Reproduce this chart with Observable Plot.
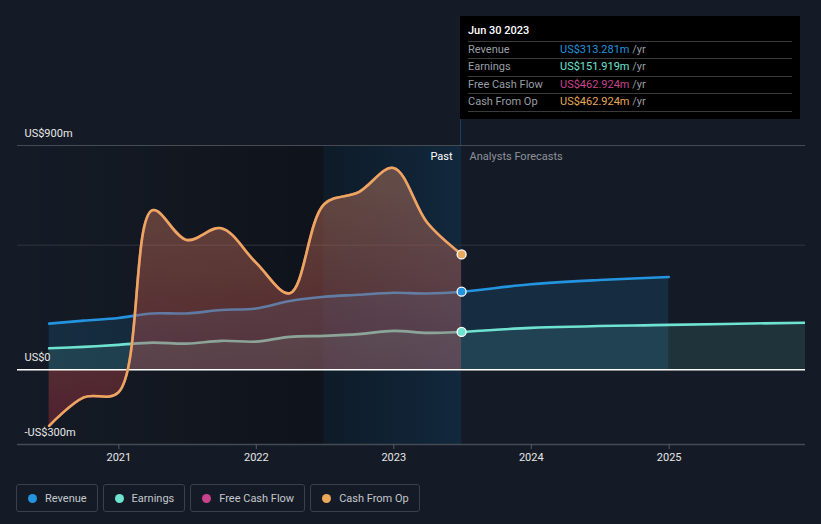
<!DOCTYPE html>
<html>
<head>
<meta charset="utf-8">
<script src="https://cdn.jsdelivr.net/npm/d3@7"></script>
<script src="https://cdn.jsdelivr.net/npm/@observablehq/plot@0.6"></script>
<style>
  html, body { margin: 0; padding: 0; background: #151b26; }
  body { font-family: Roboto, "Noto Sans", sans-serif; }
  #wrap { position: relative; width: 821px; height: 524px; overflow: hidden; background: #151b26; }
  #chart { position: absolute; left: 0; top: 0; }
  #vline { position: absolute; left: 460px; top: 16px; width: 1px; height: 129px; background: #1f3f5e; }
  #tip { position: absolute; left: 460px; top: 16px; width: 340px; height: 103px; background: #000; font-size: 11px; }
  #tip .hd { position: absolute; left: 8px; color: #fff; font-weight: 500; line-height: 14px; top: 8px; }
  #tip .sep { position: absolute; left: 8px; width: 324px; height: 1px; background: #3a3a3a; }
  #tip .row { position: absolute; left: 8px; width: 324px; height: 14px; line-height: 14px; }
  #tip .lab { position: absolute; left: 0; color: #9a9ea5; }
  #tip .val { position: absolute; left: 92px; color: #9a9ea5; }
  #legend { position: absolute; left: 16px; top: 484px; display: flex; gap: 5px; }
  .lg { height: 26px; border: 1px solid #3b404a; border-radius: 3px; display: flex; align-items: center; padding: 0 10px 0 11px; color: #c3c7cd; font-size: 11px; box-sizing: content-box; }
  .lg .dot { width: 9px; height: 9px; border-radius: 50%; margin-right: 8px; }
</style>
</head>
<body>
<div id="wrap">
  <div id="chart"></div>
  <div id="vline"></div>
  <div id="tip"></div>
  <div id="legend"></div>
</div>
<script>
// ---- data (US$ millions, trailing twelve months) ----
const pastDates = ["2020-06-30","2020-09-30","2020-12-31","2021-03-31","2021-06-30","2021-09-30","2021-12-31","2022-03-31","2022-06-30","2022-09-30","2022-12-31","2023-03-31","2023-06-30"];
const revenuePast   = [185, 197, 208, 226, 226, 240, 246, 276, 293, 301, 309, 306, 313.281];
const earningsPast  = [86, 92, 100, 109, 105, 116, 113, 132, 136, 143, 156, 148, 151.919];
const freeCashFlow  = [-225, -111, -91, 640, 521, 568, 430, 307, 664, 713, 810, 590, 462.924];
const cashFromOp    = [-225, -111, -91, 640, 521, 568, 430, 307, 664, 713, 810, 590, 462.924];

const revenueForecastDates  = ["2023-06-30","2023-12-31","2024-06-30","2024-12-31"];
const revenueForecast       = [313.281, 343, 360, 372];
const earningsForecastDates = ["2023-06-30","2023-12-31","2024-12-31","2025-12-31"];
const earningsForecast      = [151.919, 168, 180, 189];

const yTicks = [-300, 0, 900];
const yTickLabels = ["-US$300m", "US$0", "US$900m"];
const gridValues = [500, 900];
const xDomain = ["2020-04-07", "2025-12-29"];
const pastStart = "2022-06-30";
const lastDate = "2023-06-30";

const tooltipDate = "Jun 30 2023";
const seriesNames  = ["Revenue", "Earnings", "Free Cash Flow", "Cash From Op"];
const seriesColors = ["#2394df", "#6fe3d1", "#c8438a", "#e9a85c"];
const tooltipValues = ["US$313.281m", "US$151.919m", "US$462.924m", "US$462.924m"];

// ---- build tables ----
const parse = d3.utcParse("%Y-%m-%d");
const rows = (dates, vals) => dates.map((d, i) => ({date: parse(d), value: vals[i]}));
const revenue  = rows(pastDates, revenuePast).concat(rows(revenueForecastDates.slice(1), revenueForecast.slice(1)));
const earnings = rows(pastDates, earningsPast).concat(rows(earningsForecastDates.slice(1), earningsForecast.slice(1)));
const fcf = rows(pastDates, freeCashFlow);
const cfo = rows(pastDates, cashFromOp);
const yMin = yTicks[0], yMax = yTicks[yTicks.length - 1];
const shades = [
  {x1: parse(xDomain[0]), x2: parse(pastStart), y1: yMin, y2: yMax, fill: "url(#leftGrad)"},
  {x1: parse(pastStart), x2: parse(lastDate), y1: yMin, y2: yMax, fill: "url(#pastGrad)"}
];
const endPoints = [
  {date: parse(lastDate), value: revenuePast[revenuePast.length - 1], c: seriesColors[0]},
  {date: parse(lastDate), value: earningsPast[earningsPast.length - 1], c: seriesColors[1]},
  {date: parse(lastDate), value: cashFromOp[cashFromOp.length - 1], c: seriesColors[3]}
];
const yLabelRows = yTicks.map((v, i) => ({date: parse(xDomain[0]), value: v, label: yTickLabels[i]}));
const phase = [{date: parse(lastDate), value: yMax}];

const plot = Plot.plot({
  width: 821,
  height: 470,
  marginLeft: 17,
  marginRight: 16,
  marginTop: 145,
  marginBottom: 26,
  style: {background: "transparent", color: "#e6e6e6", fontFamily: "Roboto, sans-serif", fontSize: "11px"},
  x: {type: "utc", domain: xDomain.map(parse)},
  y: {domain: [yMin, yMax], axis: null},
  marks: [
    Plot.rect(shades, {x1: "x1", x2: "x2", y1: "y1", y2: "y2", fill: d => d.fill}),
    Plot.ruleY([gridValues[0]], {stroke: "#30353d", strokeWidth: 1}),
    Plot.ruleY([gridValues[1]], {stroke: "#464a53", strokeWidth: 1}),
    Plot.areaY(revenue, {x: "date", y: "value", fill: seriesColors[0], fillOpacity: 0.15, curve: "catmull-rom"}),
    Plot.areaY(earnings, {x: "date", y: "value", fill: seriesColors[1], fillOpacity: 0.12, curve: "catmull-rom", clip: true}),
    Plot.lineY(revenue, {x: "date", y: "value", stroke: seriesColors[0], strokeWidth: 2.6, curve: "catmull-rom"}),
    Plot.lineY(earnings, {x: "date", y: "value", stroke: seriesColors[1], strokeWidth: 2.6, curve: "catmull-rom", clip: true}),
    Plot.areaY(cfo, {x: "date", y: "value", fill: "url(#cfoGrad)", curve: "catmull-rom"}),
    Plot.ruleY([0], {stroke: "#ffffff", strokeWidth: 1.5}),
    Plot.ruleY([yMin], {stroke: "#454a53", strokeWidth: 1.5}),
    Plot.lineY(fcf, {x: "date", y: "value", stroke: seriesColors[2], strokeWidth: 2.6, curve: "catmull-rom"}),
    Plot.lineY(cfo, {x: "date", y: "value", stroke: seriesColors[3], strokeWidth: 2.6, curve: "catmull-rom"}),
    Plot.dot(endPoints, {x: "date", y: "value", fill: d => d.c, r: 4.5, stroke: "#ffffff", strokeWidth: 1.3}),
    Plot.text(phase, {x: "date", y: "value", text: () => "Past", textAnchor: "end", dx: -9, dy: 11, fill: "#ffffff", fontSize: 11}),
    Plot.text(phase, {x: "date", y: "value", text: () => "Analysts Forecasts", textAnchor: "start", dx: 8, dy: 11, fill: "#8d9199", fontSize: 11}),
    Plot.text(yLabelRows, {x: "date", y: "value", text: "label", textAnchor: "start", dx: 7, dy: -12, fill: "#e8e8e8", fontSize: 11}),
    Plot.axisX({ticks: d3.utcYear.every(1), tickFormat: d3.utcFormat("%Y"), tickSize: 5, tickPadding: 4, stroke: "#555a63", fill: "#e6e6e6", fontSize: 11, label: null})
  ]
});

d3.select(plot).insert("defs", ":first-child").html(`
  <linearGradient id="leftGrad" x1="0" y1="0" x2="1" y2="0">
    <stop offset="0" stop-color="#000" stop-opacity="0"/>
    <stop offset="1" stop-color="#000" stop-opacity="0.3"/>
  </linearGradient>
  <linearGradient id="pastGrad" x1="0" y1="0" x2="1" y2="0">
    <stop offset="0" stop-color="#0e1b28"/>
    <stop offset="1" stop-color="#12283d"/>
  </linearGradient>
  <linearGradient id="cfoGrad" x1="0" y1="0" x2="0" y2="1">
    <stop offset="0" stop-color="#d78a66" stop-opacity="0.42"/>
    <stop offset="1" stop-color="#a02d3c" stop-opacity="0.42"/>
  </linearGradient>
`);
document.getElementById("chart").appendChild(plot);

// ---- tooltip ----
const tip = document.getElementById("tip");
let html = `<div class="hd">${tooltipDate}</div>`;
const sepY = [25, 42, 60, 77, 95];
sepY.forEach(y => { html += `<div class="sep" style="top:${y}px"></div>`; });
seriesNames.forEach((n, i) => {
  const top = sepY[i] + 1;
  html += `<div class="row" style="top:${top + 1}px"><span class="lab">${n}</span><span class="val"><span style="color:${seriesColors[i]}">${tooltipValues[i]}</span> /yr</span></div>`;
});
tip.innerHTML = html;

// ---- legend ----
const legend = document.getElementById("legend");
seriesNames.forEach((n, i) => {
  const b = document.createElement("div");
  b.className = "lg";
  b.innerHTML = `<span class="dot" style="background:${seriesColors[i]}"></span><span>${n}</span>`;
  legend.appendChild(b);
});
</script>
</body>
</html>
